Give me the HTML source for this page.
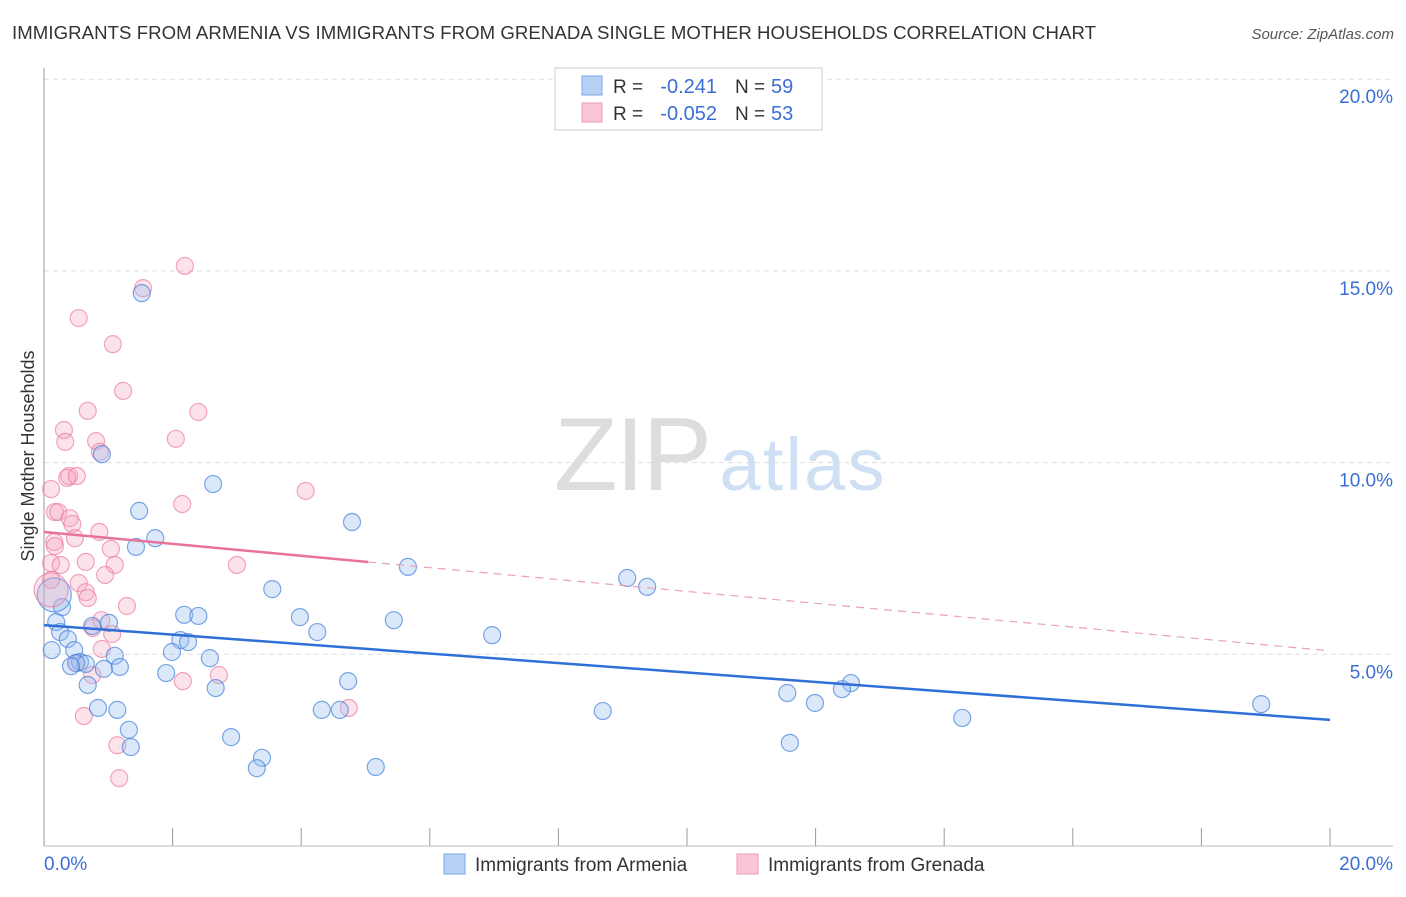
<!DOCTYPE html>
<html><head><meta charset="utf-8"><style>
body{margin:0;background:#fff;font-family:"Liberation Sans",sans-serif;}
svg text{font-family:"Liberation Sans",sans-serif;}
</style></head><body>
<svg id="chart" width="1406" height="892">
<text x="12" y="39" font-size="18.6" fill="#333" textLength="1084">IMMIGRANTS FROM ARMENIA VS IMMIGRANTS FROM GRENADA SINGLE MOTHER HOUSEHOLDS CORRELATION CHART</text>
<text x="1394" y="39" font-size="15" fill="#555" font-style="italic" text-anchor="end">Source: ZipAtlas.com</text>
<text x="633" y="490" font-size="104" fill="#ddd" font-family="Liberation Serif" text-anchor="middle" textLength="158">ZIP</text>
<text x="802" y="490" font-size="74" fill="#cfe0f5" text-anchor="middle" textLength="165">atlas</text>
<text transform="translate(34,456) rotate(-90)" font-size="18" fill="#333" text-anchor="middle">Single Mother Households</text>
<g id="grid"></g><g id="axes"></g><g id="pts"></g><g id="lines"></g>
<g>
<rect x="555" y="68" width="267" height="62" fill="#fff" stroke="#ccc"/>
<rect x="582" y="76" width="20" height="19" fill="#b7d1f5" stroke="#7aa7e6"/>
<rect x="582" y="103" width="20" height="19" fill="#fac5d5" stroke="#ee9ab4"/>
<text x="613" y="93" font-size="19" fill="#333">R =</text>
<text x="717" y="93" font-size="20" fill="#3b6fd4" text-anchor="end">-0.241</text>
<text x="735" y="93" font-size="19" fill="#333">N =</text>
<text x="771" y="93" font-size="20" fill="#3b6fd4">59</text>
<text x="613" y="120" font-size="19" fill="#333">R =</text>
<text x="717" y="120" font-size="20" fill="#3b6fd4" text-anchor="end">-0.052</text>
<text x="735" y="120" font-size="19" fill="#333">N =</text>
<text x="771" y="120" font-size="20" fill="#3b6fd4">53</text>
</g>
<g>
<rect x="444" y="854" width="21" height="20" fill="#b7d1f5" stroke="#7aa7e6"/>
<text x="475" y="871" font-size="19" fill="#333">Immigrants from Armenia</text>
<rect x="737" y="854" width="21" height="20" fill="#fac5d5" stroke="#ee9ab4"/>
<text x="768" y="871" font-size="19" fill="#333">Immigrants from Grenada</text>
</g>
</svg>
<script>
const yTicks=[5,10,15,20];
const yTickLabels=["5.0%","10.0%","15.0%","20.0%"];
const xTickLabels=["0.0%","20.0%"];
const blueX=[1.52,0.90,2.63,1.48,1.73,1.43,4.79,5.66,9.07,9.38,3.55,0.28,2.18,2.40,3.98,5.44,0.19,0.25,0.37,1.01,0.75,4.25,2.12,2.24,6.97,0.47,0.12,1.99,1.10,2.58,0.56,0.50,0.65,0.42,1.18,0.93,1.90,4.73,0.68,2.67,12.55,12.41,11.56,11.99,18.93,0.84,1.14,4.32,4.60,8.69,14.28,1.32,2.91,1.35,11.60,3.39,3.31,5.16];
const blueY=[14.42,10.22,9.44,8.74,8.03,7.80,8.45,7.28,6.99,6.76,6.70,6.23,6.03,6.00,5.97,5.89,5.84,5.58,5.40,5.82,5.74,5.58,5.37,5.32,5.50,5.11,5.11,5.06,4.96,4.90,4.80,4.77,4.75,4.69,4.67,4.62,4.51,4.30,4.20,4.12,4.25,4.09,3.99,3.73,3.70,3.60,3.55,3.55,3.55,3.52,3.34,3.03,2.84,2.58,2.69,2.30,2.03,2.06];
const pinkX=[2.19,1.54,0.54,1.07,1.23,0.68,2.40,0.31,2.05,0.81,0.33,0.87,0.39,0.36,0.51,0.11,4.07,2.15,0.17,0.22,0.40,0.44,0.86,0.48,0.16,0.17,1.04,0.65,0.11,0.26,1.10,3.00,0.95,0.54,0.11,0.65,0.68,1.29,0.89,0.76,1.06,0.90,0.50,2.72,0.75,2.16,4.74,0.62,1.14,1.17];
const pinkY=[15.13,14.55,13.77,13.09,11.87,11.35,11.32,10.85,10.62,10.56,10.54,10.28,9.65,9.60,9.65,9.31,9.26,8.92,8.71,8.71,8.55,8.40,8.19,8.03,7.93,7.82,7.75,7.41,7.38,7.33,7.33,7.33,7.07,6.86,6.94,6.62,6.47,6.26,5.89,5.69,5.53,5.14,4.77,4.46,4.46,4.30,3.60,3.39,2.63,1.77];
const bigPoints=[[0.16,6.55,"blue"],[0.11,6.68,"pink"]];
const blueTrend=[5.76,3.29];
const pinkTrend=[8.19,5.09];
const pinkSolidEnd=5.04;
const NS="http://www.w3.org/2000/svg";
const X=v=>44+v*64.3, Y=v=>846-v*38.34;
function mk(tag,attrs,parent){const e=document.createElementNS(NS,tag);for(const k in attrs)e.setAttribute(k,attrs[k]);document.getElementById(parent).appendChild(e);return e;}
yTicks.forEach((t,i)=>{
 const g=mk('line',{x1:44,x2:1393,y1:Y(t),y2:Y(t),stroke:'#ddd','stroke-dasharray':'5,4'},'grid');
 
 
 const l=mk('text',{x:1393,y:Y(t)+24,'font-size':19,fill:'#3b6fd4','text-anchor':'end'},'grid');l.textContent=yTickLabels[i];
 
 
});
const ya=mk('line',{x1:44,x2:44,y1:68,y2:846,stroke:'#999'},'axes');


const xa=mk('line',{x1:44,x2:1393,y1:846,y2:846,stroke:'#bbb'},'axes');


for(let i=0;i<=10;i++){const t=mk('line',{x1:X(i*2),x2:X(i*2),y1:828,y2:846,stroke:'#999'},'axes');
 
 }
[[0,'start',44],[20,'end',1393]].forEach((d,i)=>{const t=mk('text',{x:d[2],y:870,'font-size':19,fill:'#3b6fd4','text-anchor':d[1]},'axes');t.textContent=xTickLabels[i];
 
 });
function dot(x,y,c,r){const blue=c==='blue';const e=mk('circle',{cx:X(x),cy:Y(y),r:r,fill:blue?'rgba(150,190,240,0.35)':'rgba(245,160,185,0.3)',stroke:blue?'rgba(70,130,220,0.7)':'rgba(235,120,155,0.65)','stroke-width':1.2},'pts');
 
 }
pinkX.forEach((x,i)=>dot(x,pinkY[i],'pink',8.5));
blueX.forEach((x,i)=>dot(x,blueY[i],'blue',8.5));
bigPoints.forEach(p=>dot(p[0],p[1],p[2],17));
const bl=mk('line',{x1:X(0),y1:Y(blueTrend[0]),x2:X(20),y2:Y(blueTrend[1]),stroke:'#2f6fd6','stroke-width':2.5},'lines');


const pm=pinkTrend[0]+(pinkTrend[1]-pinkTrend[0])*pinkSolidEnd/20;
const ps=mk('line',{x1:X(0),y1:Y(pinkTrend[0]),x2:X(pinkSolidEnd),y2:Y(pm),stroke:'#e8739a','stroke-width':2.5},'lines');


const pd=mk('line',{x1:X(pinkSolidEnd),y1:Y(pm),x2:X(20),y2:Y(pinkTrend[1]),stroke:'#eaa0b8','stroke-width':1.2,'stroke-dasharray':'8,6'},'lines');


</script>
</body></html>
